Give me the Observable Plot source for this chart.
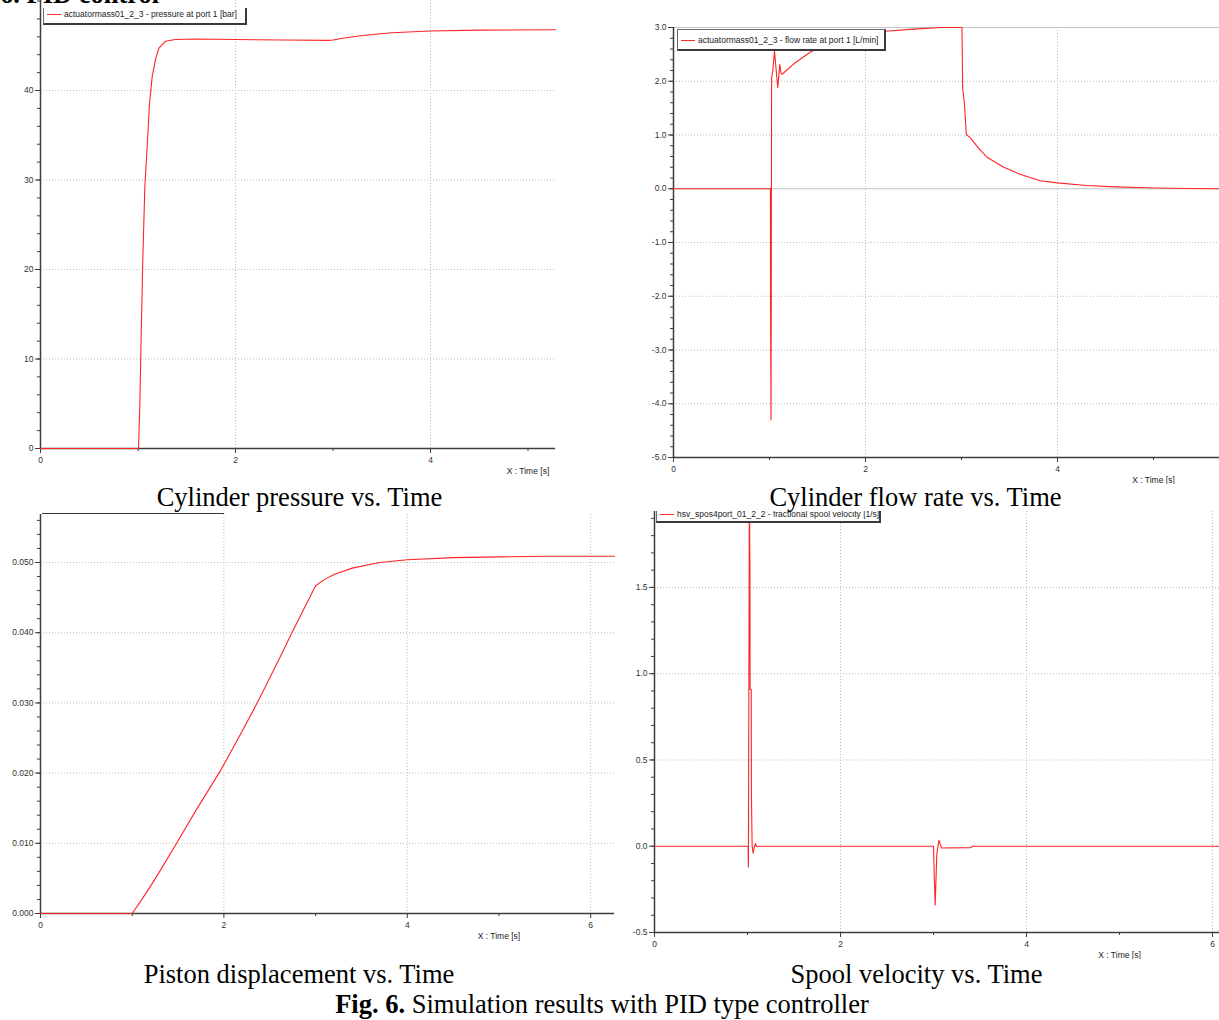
<!DOCTYPE html>
<html><head><meta charset="utf-8">
<script src="https://cdn.jsdelivr.net/npm/d3@7"></script>
<script src="https://cdn.jsdelivr.net/npm/@observablehq/plot@0.6"></script>
<style>
body{margin:0;background:#fff;}
#page{position:relative;width:1219px;height:1020px;overflow:hidden;background:#fff;}
.panel{position:absolute;overflow:hidden;}
.panel svg{display:block;}
.cap{position:absolute;font-family:"Liberation Serif","Times New Roman",serif;font-size:26.5px;line-height:26.5px;white-space:nowrap;transform:translateX(-50%);color:#000;z-index:5;}
.title{position:absolute;font-family:"Liberation Serif","Times New Roman",serif;font-weight:bold;font-size:26.5px;line-height:26.5px;white-space:nowrap;color:#000;z-index:6;}
.legend{position:absolute;background:#fff;border-left:1px solid #6a6a6a;border-top:1px solid #6a6a6a;border-right:2px solid #3a3a3a;border-bottom:2px solid #3a3a3a;font-family:"Liberation Sans",Arial,sans-serif;font-size:8.5px;color:#222;box-sizing:border-box;white-space:nowrap;z-index:3;}
.legend .sw{position:absolute;height:0;border-top:1.2px solid #ff2a2a;}
.legend .tx{position:absolute;line-height:10px;}
</style></head><body><div id="page"></div>
<script>
// ---------- texts ----------
const titleText = "6. PID control";
const xAxisLabel = "X : Time [s]";
const xLabelTime = 5;
const captionPressure = "Cylinder pressure vs. Time";
const captionFlow = "Cylinder flow rate vs. Time";
const captionDisp = "Piston displacement vs. Time";
const captionSpool = "Spool velocity vs. Time";
const figLabel = "Fig. 6.";
const figText = " Simulation results with PID type controller";
const legendPressure = "actuatormass01_2_3 - pressure at port 1 [bar]";
const legendFlow = "actuatormass01_2_3 - flow rate at port 1 [L/min]";
const legendSpool = "hsv_spos4port_01_2_2 - fractional spool velocity [1/s]";

// ---------- data ----------
const pressureTime = [0, 1.005, 1.018, 1.033, 1.049, 1.07, 1.094, 1.118, 1.145, 1.18, 1.213, 1.28, 1.385, 1.6, 2.0, 2.5, 2.95, 3.0, 3.1, 3.3, 3.6, 4.0, 4.5, 5.28];
const pressureBar  = [0, 0, 4.6, 12.8, 21.0, 29.2, 33.7, 38.5, 41.5, 43.5, 44.7, 45.5, 45.7, 45.75, 45.7, 45.65, 45.6, 45.65, 45.85, 46.15, 46.45, 46.65, 46.75, 46.8];

const flowTime = [0, 1.010, 1.011, 1.016, 1.022, 1.035, 1.052, 1.07, 1.086, 1.097, 1.107, 1.12, 1.132, 1.25, 1.43, 1.7, 2.0, 2.21, 2.5, 2.78, 3.005, 3.012, 3.03, 3.05, 3.09, 3.18, 3.27, 3.44, 3.61, 3.82, 4.0, 4.3, 4.6, 5.0, 5.4, 5.69];
const flowRate = [0, 0, -2.2, -4.3, 2.07, 2.2, 2.56, 2.2, 1.88, 2.1, 2.31, 2.15, 2.13, 2.32, 2.55, 2.75, 2.88, 2.93, 2.97, 3.0, 3.0, 1.87, 1.6, 1.01, 0.95, 0.75, 0.58, 0.40, 0.27, 0.15, 0.11, 0.06, 0.035, 0.015, 0.005, 0];

const dispTime = [0, 1.0, 1.1, 1.2, 1.3, 1.47, 1.7, 1.97, 2.2, 2.38, 2.6, 2.75, 3.0, 3.1, 3.2, 3.4, 3.7, 4.0, 4.5, 5.0, 5.5, 6.26];
const dispM    = [0, 0, 0.0019, 0.0039, 0.006, 0.0097, 0.0148, 0.0205, 0.026, 0.0304, 0.0362, 0.0402, 0.0467, 0.0476, 0.0483, 0.0492, 0.0500, 0.0504, 0.0507, 0.0508, 0.0509, 0.0509];

const spoolTime = [0, 1.006, 1.01, 1.02, 1.026, 1.028, 1.04, 1.042, 1.05, 1.061, 1.075, 1.085, 1.10, 1.12, 3.0, 3.008, 3.018, 3.035, 3.058, 3.085, 3.4, 3.42, 6.075];
const spoolVel  = [0, 0, -0.12, 2.1, 1.61, 0.91, 0.91, 0.31, 0.0, -0.04, 0.0, 0.015, -0.003, 0, 0, -0.17, -0.34, -0.05, 0.035, -0.01, -0.008, 0, 0];

// ---------- ticks ----------
const pressureXTicks = [0, 2, 4];
const pressureYTicks = [0, 10, 20, 30, 40];
const flowXTicks = [0, 2, 4];
const flowYTicks = [-5, -4, -3, -2, -1, 0, 1, 2, 3];
const dispXTicks = [0, 2, 4, 6];
const dispYTicks = [0, 0.01, 0.02, 0.03, 0.04, 0.05];
const spoolXTicks = [0, 2, 4, 6];
const spoolYTicks = [-0.5, 0, 0.5, 1.0, 1.5];

const page = document.getElementById("page");

function makePanel(cfg) {
  const data = cfg.t.map((t, i) => ({t, v: cfg.v[i]}));
  const axisColor = "#3d3d3d";
  const gridStyle = {stroke: "#bcbcbc", strokeOpacity: 1, strokeDasharray: "1,2"};
  const marks = [
    Plot.gridX({ticks: cfg.gridX, ...gridStyle}),
    Plot.gridY({ticks: cfg.gridY, ...gridStyle})
  ];
  if (cfg.solidY) marks.push(Plot.ruleY(cfg.solidY, {stroke: "#c4c4c4"}));
  marks.push(
    Plot.axisX({ticks: cfg.xMinor, tickSize: 3, fill: "none", stroke: axisColor, label: null}),
    Plot.axisX({ticks: cfg.xMajor, tickSize: 5, tickPadding: 3, stroke: axisColor, fill: "#333", tickFormat: d => String(d), label: null}),
    Plot.axisY({ticks: cfg.yMinor, tickSize: 3, fill: "none", stroke: axisColor, label: null}),
    Plot.axisY({ticks: cfg.yMajor, tickSize: 5, tickPadding: 2, stroke: axisColor, fill: "#333", tickFormat: cfg.yFmt, label: null}),
    Plot.ruleX([cfg.xDomain[0]], {stroke: axisColor, strokeWidth: 1.5}),
    Plot.ruleY([cfg.yDomain[0]], {stroke: axisColor, strokeWidth: 1.5}),
    Plot.line(data, {x: "t", y: "v", stroke: "#ff2424", strokeWidth: 1.1, clip: !!cfg.clip}),
    Plot.text([{t: xLabelTime, s: xAxisLabel}], {x: "t", text: "s", frameAnchor: "bottom", dy: 25, fill: "#222"})
  );
  const chart = Plot.plot({
    width: cfg.width, height: cfg.height,
    marginLeft: cfg.ml, marginRight: cfg.mr, marginTop: cfg.mt, marginBottom: cfg.mb,
    x: {domain: cfg.xDomain},
    y: {domain: cfg.yDomain},
    style: {fontFamily: "'Liberation Sans', Arial, sans-serif", fontSize: "8.5px", background: "transparent", overflow: "visible", maxWidth: "none", color: "#333"},
    marks
  });
  const wrap = document.createElement("div");
  wrap.className = "panel";
  Object.assign(wrap.style, {left: cfg.left + "px", top: cfg.top + "px", width: cfg.width + "px", height: cfg.height + "px"});
  wrap.appendChild(chart);
  page.appendChild(wrap);
  return wrap;
}

function addLegend(parent, o) {
  const box = document.createElement("div");
  box.className = "legend";
  Object.assign(box.style, {left: o.left + "px", top: o.top + "px", width: o.width + "px", height: o.height + "px"});
  if (o.noTop) box.style.borderTop = "none";
  if (o.text) {
    const sw = document.createElement("div");
    sw.className = "sw";
    Object.assign(sw.style, {left: "3px", width: "14px", top: o.swY + "px"});
    const tx = document.createElement("div");
    tx.className = "tx";
    tx.textContent = o.text;
    Object.assign(tx.style, {left: "20px", top: o.txY + "px"});
    box.appendChild(sw); box.appendChild(tx);
  }
  parent.appendChild(box);
}

// Panel 1: pressure
const p1 = makePanel({
  left: 0, top: 0, width: 600, height: 477, ml: 40, mr: 45, mt: 0, mb: 29,
  xDomain: [0, 5.282], yDomain: [0, 50.06],
  xMajor: pressureXTicks, xMinor: [1, 3, 5], yMajor: pressureYTicks, yMinor: d3.range(0, 50.1, 2),
  gridX: [2, 4], gridY: [10, 20, 30, 40], yFmt: d => String(d),
  t: pressureTime, v: pressureBar
});
addLegend(p1, {left: 43, top: 8, width: 204, height: 17, noTop: true, text: legendPressure, swY: 6, txY: 1});

// Panel 2: flow
const p2 = makePanel({
  left: 620, top: 0, width: 599, height: 484, ml: 53, mr: 0, mt: 27, mb: 27,
  xDomain: [0, 5.6875], yDomain: [-5, 3],
  xMajor: flowXTicks, xMinor: [1, 3, 5], yMajor: flowYTicks, yMinor: d3.range(-5, 3.01, 0.2).map(d => +d.toFixed(1)),
  gridX: [2, 4], gridY: [-4, -3, -2, -1, 1, 2], solidY: [0, 3], yFmt: d => d.toFixed(1),
  t: flowTime, v: flowRate
});
addLegend(p2, {left: 57, top: 29, width: 209, height: 22, text: legendFlow, swY: 10, txY: 5});

// Panel 3: displacement
const p3 = makePanel({
  left: 0, top: 513, width: 620, height: 445, ml: 40, mr: 6, mt: 1, mb: 45,
  xDomain: [0, 6.26], yDomain: [0, 0.05684],
  xMajor: dispXTicks, xMinor: [1, 3, 5], yMajor: dispYTicks, yMinor: d3.range(0, 0.0569, 0.002).map(d => +d.toFixed(3)),
  gridX: [2, 4, 6], gridY: [0.01, 0.02, 0.03, 0.04, 0.05], yFmt: d => d.toFixed(3),
  t: dispTime, v: dispM
});
addLegend(p3, {left: 42, top: -20, width: 182, height: 21});

// Panel 4: spool velocity
const p4 = makePanel({
  left: 620, top: 511, width: 599, height: 448, ml: 34, mr: 0, mt: 0, mb: 27,
  xDomain: [0, 6.075], yDomain: [-0.5, 1.94],
  xMajor: spoolXTicks, xMinor: [1, 3, 5], yMajor: spoolYTicks, yMinor: d3.range(-0.5, 1.941, 0.1).map(d => +d.toFixed(1)),
  gridX: [2, 4, 6], gridY: [0.5, 1.0, 1.5], yFmt: d => d.toFixed(1),
  t: spoolTime, v: spoolVel, clip: true
});
addLegend(p4, {left: 36, top: -9, width: 225, height: 21, text: legendSpool, swY: 11, txY: 6});

// captions
function addCap(text, cx, top) {
  const d = document.createElement("div");
  d.className = "cap";
  d.textContent = text;
  d.style.left = cx + "px"; d.style.top = top + "px";
  page.appendChild(d);
  return d;
}
addCap(captionPressure, 299.5, 484);
addCap(captionFlow, 915.5, 484);
addCap(captionDisp, 299, 961);
addCap(captionSpool, 916.5, 961);
const fig = addCap("", 602, 991);
const b = document.createElement("b"); b.textContent = figLabel;
fig.appendChild(b); fig.appendChild(document.createTextNode(figText));

const title = document.createElement("div");
title.className = "title";
title.textContent = titleText;
title.style.left = "0px"; title.style.top = "-19px";
page.appendChild(title);
</script></body></html>
